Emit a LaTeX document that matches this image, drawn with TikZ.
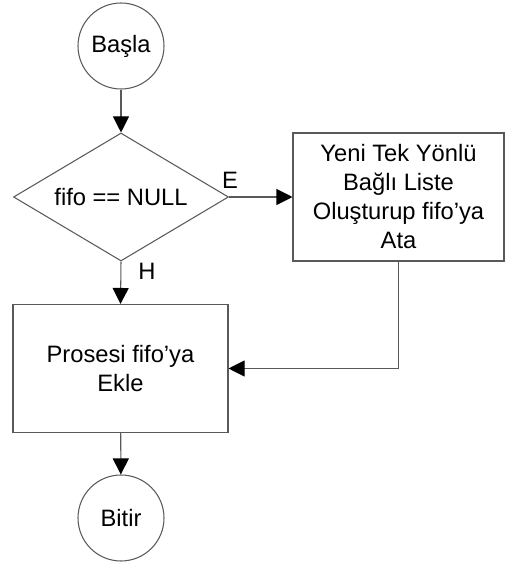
\documentclass[tikz,border=0pt]{standalone}
\usepackage{fontspec}
\setmainfont{Liberation Sans}
\usetikzlibrary{shapes.geometric,arrows.meta}

\begin{document}
\begin{tikzpicture}[
  every node/.style={font=\fontsize{13.5}{16.5}\selectfont},
  line/.style={draw=black!65,line width=0.6pt},
  flow/.style={line,-{Triangle[length=3.2mm,width=3.2mm,color=black]}},
  terminal/.style={line,circle,minimum size=1.72cm,inner sep=0pt},
  process/.style={line,rectangle,minimum height=2.56cm,align=center,inner sep=0pt},
  decision/.style={line,diamond,aspect=1.68,minimum width=4.3cm,minimum height=2.56cm,inner sep=1pt}]
  \useasboundingbox (0,0) rectangle (10.1,11.26);

  % start
  \node [terminal] (basla) at (2.42,10.34) {Başla};

  % check
  \node [decision] (kontrol) at (2.42,7.32) {fifo == NULL};
  \node (evet) at (4.6,7.66) {E};
  \node (hayir) at (2.94,5.84) {H};

  % new list
  \node [process,minimum width=4.22cm] (yeni) at (7.97,7.32) {Yeni Tek Yönlü\\Bağlı Liste\\Oluşturup fifo’ya\\Ata};

  % add process
  \node [process,minimum width=4.3cm] (ekle) at (2.41,3.89) {Prosesi fifo’ya\\Ekle};

  % end
  \node [terminal] (bitir) at (2.42,0.9) {Bitir};

  % connectors
  \draw [flow] (basla) -- (kontrol);
  \draw [flow] (kontrol.east) -- (yeni.west);
  \draw [flow] (kontrol.south) -- (ekle.north);
  \draw [flow] (yeni.south) |- (ekle.east);
  \draw [flow] (ekle) -- (bitir);

\end{tikzpicture}
\end{document}
